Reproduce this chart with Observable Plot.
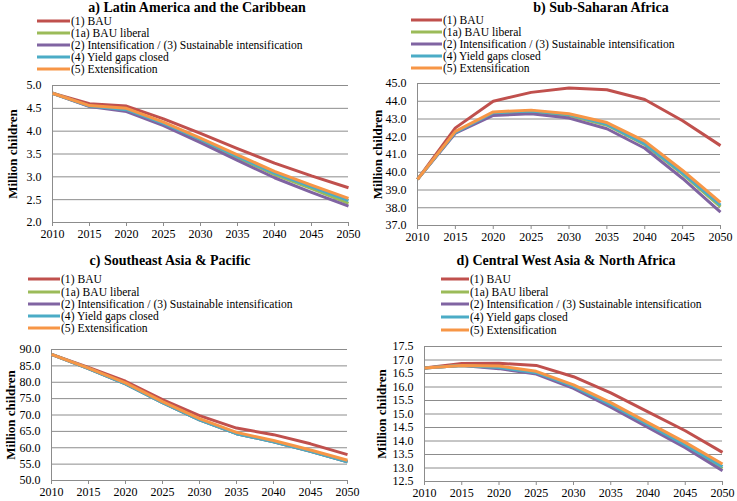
<!DOCTYPE html>
<html><head><meta charset="utf-8">
<script src="https://cdn.jsdelivr.net/npm/d3@7"></script>
<script src="https://cdn.jsdelivr.net/npm/@observablehq/plot@0.6"></script>
<style>
body{margin:0;background:#fff;}
#root{position:relative;width:737px;height:501px;overflow:hidden;font-family:'Liberation Serif','DejaVu Serif',serif;}
.title{position:absolute;font-family:'Liberation Serif','DejaVu Serif',serif;font-weight:bold;font-size:14px;line-height:14px;white-space:nowrap;transform:translate(-50%,-50%);}
.leg{position:absolute;font-family:'Liberation Serif','DejaVu Serif',serif;font-size:11.6px;line-height:11px;height:11px;white-space:nowrap;transform:translateY(-50%);display:flex;align-items:center;}
.leg span.sw{display:inline-block;height:3px;margin-right:1px;}
</style></head>
<body><div id="root"></div>
<script>
const years = [2010, 2015, 2020, 2025, 2030, 2035, 2040, 2045, 2050];
const seriesNames = ["(1) BAU", "(1a) BAU liberal", "(2) Intensification / (3) Sustainable intensification", "(4) Yield gaps closed", "(5) Extensification"];
const seriesColors = ["#C0504D", "#9BBB59", "#8064A2", "#4BACC6", "#F79646"];

// a) Latin America and the Caribbean
const a_bau = [4.83, 4.60, 4.55, 4.27, 3.95, 3.62, 3.30, 3.02, 2.76];
const a_lib = [4.83, 4.55, 4.46, 4.15, 3.80, 3.42, 3.05, 2.74, 2.42];
const a_int = [4.83, 4.54, 4.43, 4.12, 3.75, 3.36, 2.98, 2.66, 2.36];
const a_yg  = [4.83, 4.55, 4.47, 4.17, 3.82, 3.44, 3.08, 2.78, 2.48];
const a_ext = [4.83, 4.56, 4.50, 4.20, 3.85, 3.48, 3.12, 2.82, 2.53];
// b) Sub-Saharan Africa
const b_bau = [39.6, 42.5, 44.0, 44.5, 44.75, 44.65, 44.1, 42.9, 41.5];
const b_lib = [39.6, 42.25, 43.35, 43.4, 43.2, 42.65, 41.55, 39.9, 38.05];
const b_int = [39.6, 42.2, 43.2, 43.3, 43.05, 42.45, 41.35, 39.65, 37.75];
const b_yg  = [39.6, 42.25, 43.35, 43.45, 43.25, 42.7, 41.6, 39.95, 38.15];
const b_ext = [39.6, 42.3, 43.4, 43.5, 43.3, 42.8, 41.75, 40.1, 38.3];
// c) Southeast Asia & Pacific
const c_bau = [88.5, 84.5, 80.3, 74.7, 69.8, 66.0, 64.0, 61.2, 57.9];
const c_lib = [88.5, 84.2, 79.5, 73.8, 68.5, 64.3, 61.8, 58.9, 55.7];
const c_int = [88.5, 84.2, 79.5, 73.8, 68.5, 64.3, 61.8, 58.9, 55.7];
const c_yg  = [88.5, 84.2, 79.5, 73.8, 68.5, 64.3, 61.8, 58.9, 55.7];
const c_ext = [88.5, 84.3, 79.8, 74.1, 68.9, 64.7, 62.2, 59.3, 56.2];
// d) Central West Asia & North Africa
const d_bau = [16.7, 16.87, 16.88, 16.80, 16.38, 15.78, 15.08, 14.38, 13.58];
const d_lib = [16.7, 16.80, 16.72, 16.52, 16.00, 15.30, 14.55, 13.80, 12.98];
const d_int = [16.7, 16.80, 16.68, 16.48, 15.95, 15.25, 14.50, 13.75, 12.90];
const d_yg  = [16.7, 16.80, 16.72, 16.53, 16.02, 15.35, 14.60, 13.85, 13.05];
const d_ext = [16.7, 16.80, 16.78, 16.58, 16.08, 15.42, 14.68, 13.95, 13.15];

const panels = [
  {title:"a) Latin America and the Caribbean", series:[a_bau,a_lib,a_int,a_yg,a_ext],
   left:0, top:0, width:368, height:250, ml:52, mr:20, mt:85, mb:28, domain:[2,5], step:0.5, fmt:".1f", lo:45,
   tx:197, ty:8, lx:37, lw:33, ly:[21,33,45,57,69]},
  {title:"b) Sub-Saharan Africa", series:[b_bau,b_lib,b_int,b_yg,b_ext],
   left:368, top:0, width:369, height:250, ml:49, mr:17, mt:83, mb:25, domain:[37,45], step:1, fmt:".1f", lo:45,
   tx:601, ty:8, lx:411, lw:31, ly:[20,32,44,56,68]},
  {title:"c) Southeast Asia & Pacific", series:[c_bau,c_lib,c_int,c_yg,c_ext],
   left:0, top:250, width:368, height:251, ml:51, mr:21, mt:99, mb:21, domain:[50,90], step:5, fmt:".1f", lo:46,
   tx:170, ty:261, lx:28, lw:32, ly:[279,292,304,316,328]},
  {title:"d) Central West Asia & North Africa", series:[d_bau,d_lib,d_int,d_yg,d_ext],
   left:368, top:250, width:369, height:251, ml:56, mr:15, mt:96, mb:20, domain:[12.5,17.5], step:0.5, fmt:".1f", lo:48,
   tx:566, ty:261, lx:441, lw:28, ly:[279,292,304,317,330]}
];

const FONT = "'Liberation Serif','DejaVu Serif',serif";
const root = document.getElementById("root");
for (const p of panels) {
  const rows = [];
  p.series.forEach((vals, si) => vals.forEach((v, i) => rows.push({year: years[i], value: v, s: seriesNames[si]})));
  const ticks = d3.range(p.domain[0], p.domain[1] + p.step/2, p.step);
  const fmt = d3.format(p.fmt);
  const chart = Plot.plot({
    width: p.width, height: p.height,
    marginLeft: p.ml, marginRight: p.mr, marginTop: p.mt, marginBottom: p.mb,
    style: {fontFamily: FONT, fontSize: "12px", color: "#000", background: "transparent"},
    x: {domain: [2010, 2050]},
    y: {domain: p.domain},
    color: {domain: seriesNames, range: seriesColors},
    marks: [
      Plot.gridY(ticks, {stroke: "#8c8c8c", strokeOpacity: 1, strokeWidth: 1}),
      Plot.ruleX([2010], {stroke: "#8c8c8c", strokeWidth: 1}),
      Plot.ruleY([p.domain[0]], {stroke: "#8c8c8c", strokeWidth: 1}),
      Plot.axisX(years, {tickSize: 4, tickPadding: 3, stroke: "#8c8c8c", label: null, tickFormat: d => String(d), fontFamily: FONT}),
      Plot.axisY(ticks, {tickSize: 0, tickPadding: 11, tickFormat: fmt, label: "Million children", labelAnchor: "center", labelArrow: "none", labelOffset: p.lo, fontFamily: FONT}),
      Plot.line(rows, {x: "year", y: "value", z: "s", stroke: "s", strokeWidth: 3, strokeLinejoin: "round", strokeLinecap: "butt"})
    ]
  });
  chart.style.position = "absolute";
  chart.style.left = p.left + "px";
  chart.style.top = p.top + "px";
  chart.style.fontFamily = FONT;
  root.appendChild(chart);
  chart.querySelectorAll("text").forEach(t => t.setAttribute("font-family", FONT));
  chart.querySelectorAll("g[aria-label='y-axis label'] text").forEach(t => { t.setAttribute("font-weight", "bold"); t.setAttribute("font-size", "13px"); });

  const t = document.createElement("div");
  t.className = "title"; t.textContent = p.title;
  t.style.left = p.tx + "px"; t.style.top = p.ty + "px";
  root.appendChild(t);
  seriesNames.forEach((name, i) => {
    const d = document.createElement("div");
    d.className = "leg";
    d.style.left = p.lx + "px"; d.style.top = p.ly[i] + "px";
    const sw = document.createElement("span");
    sw.className = "sw"; sw.style.width = p.lw + "px"; sw.style.background = seriesColors[i];
    d.appendChild(sw);
    d.appendChild(document.createTextNode(name));
    root.appendChild(d);
  });
}
</script></body></html>
